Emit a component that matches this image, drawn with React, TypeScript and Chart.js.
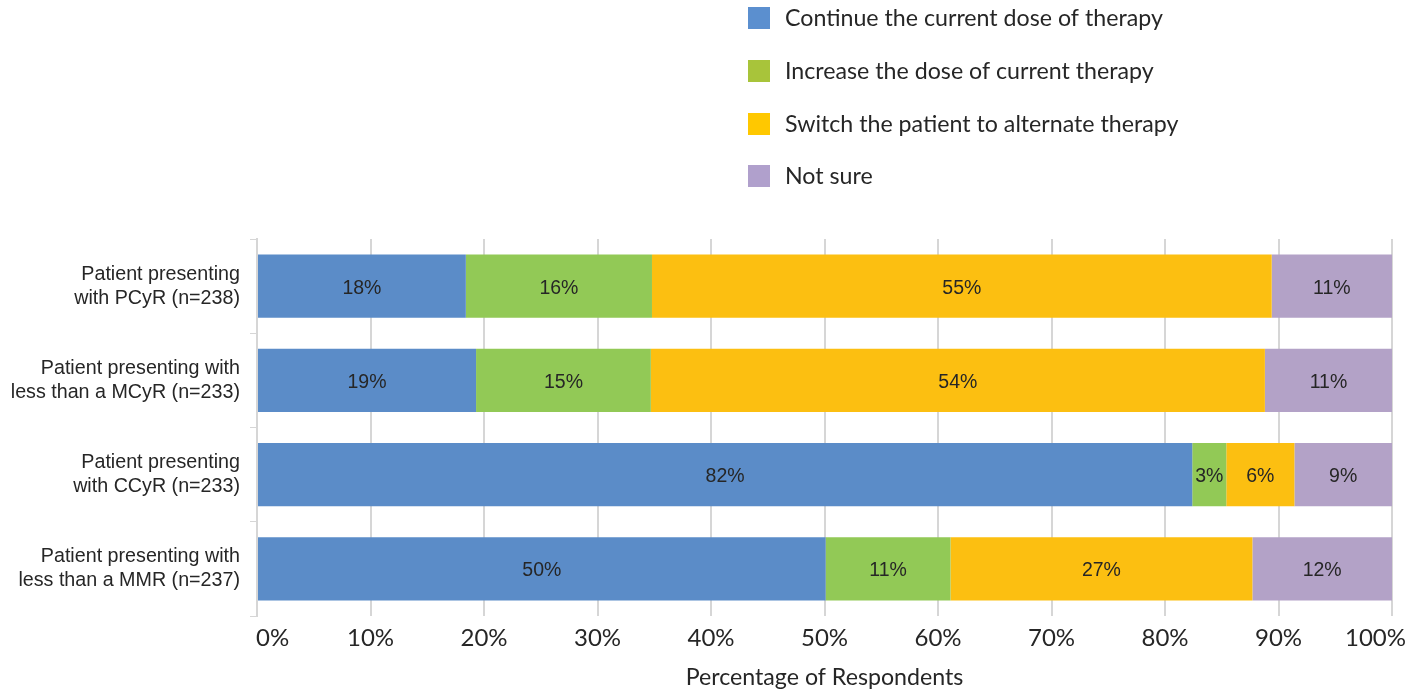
import React, { useEffect, useRef } from "react";
import { Chart, registerables } from "chart.js";

Chart.register(...registerables);

const categories: string[][] = [
  ["Patient presenting", "with PCyR (n=238)"],
  ["Patient presenting with", "less than a MCyR (n=233)"],
  ["Patient presenting", "with CCyR (n=233)"],
  ["Patient presenting with", "less than a MMR (n=237)"],
];

const seriesNames: string[] = [
  "Continue the current dose of therapy",
  "Increase the dose of current therapy",
  "Switch the patient to alternate therapy",
  "Not sure",
];

const continueValues: number[] = [18.4, 19.3, 82.4, 50.1];
const increaseValues: number[] = [16.4, 15.4, 3.0, 11.0];
const switchValues: number[] = [54.6, 54.1, 6.0, 26.6];
const notSureValues: number[] = [10.6, 11.2, 8.6, 12.3];

const barColors: string[] = ["#5b8cc8", "#92c956", "#fcbf11", "#b3a2c7"];
const legendColors: string[] = ["#5b8fcf", "#a8c43a", "#ffc800", "#b0a0cc"];

const xTickValues: number[] = [0, 10, 20, 30, 40, 50, 60, 70, 80, 90, 100];
const xTitle = "Percentage of Respondents";

const GEO_FONT = "Lato, 'Noto Sans', sans-serif";
const ARIAL_FONT = "'Liberation Sans', Arial, sans-serif";

export default function App() {
  const canvasRef = useRef<HTMLCanvasElement | null>(null);

  useEffect(() => {
    document.body.style.margin = "0";
    const canvas = canvasRef.current;
    if (!canvas) return;

    const legendPlugin = {
      id: "customLegend",
      afterDraw(chart: any) {
        const ctx = chart.ctx;
        ctx.save();
        ctx.font = `23.2px ${GEO_FONT}`;
        ctx.textBaseline = "middle";
        ctx.textAlign = "left";
        const rows = [18, 71, 124, 176];
        seriesNames.forEach((name, i) => {
          const cy = rows[i];
          ctx.fillStyle = legendColors[i];
          ctx.fillRect(748, cy - 11, 22, 22);
          ctx.fillStyle = "#262626";
          ctx.fillText(name, 785, cy + 1);
        });
        ctx.restore();
      },
    };

    const xTickPlugin = {
      id: "xTickLabels",
      afterDraw(chart: any) {
        const ctx = chart.ctx;
        const scale = chart.scales.x;
        const area = chart.chartArea;
        ctx.save();
        ctx.font = `24px ${GEO_FONT}`;
        ctx.fillStyle = "#262626";
        ctx.textAlign = "center";
        ctx.textBaseline = "middle";
        xTickValues.forEach((v) => {
          const text = `${v}%`;
          const w = ctx.measureText(text).width;
          let x = scale.getPixelForValue(v);
          const minX = area.left - 1 + w / 2;
          const maxX = chart.width - 6 - w / 2;
          if (x < minX) x = minX;
          if (x > maxX) x = maxX;
          ctx.fillText(text, x, area.bottom + 22);
        });
        ctx.restore();
      },
    };

    const labelPlugin = {
      id: "barLabels",
      afterDatasetsDraw(chart: any) {
        const ctx = chart.ctx;
        ctx.save();
        ctx.font = `19.5px ${ARIAL_FONT}`;
        ctx.fillStyle = "#262626";
        ctx.textAlign = "center";
        ctx.textBaseline = "middle";
        chart.data.datasets.forEach((ds: any, di: number) => {
          const meta = chart.getDatasetMeta(di);
          meta.data.forEach((bar: any, i: number) => {
            const v = ds.data[i] as number;
            const cx = (bar.x + bar.base) / 2;
            ctx.fillText(`${Math.round(v)}%`, cx, bar.y + 2);
          });
        });
        ctx.restore();
      },
    };

    const dataSeries = [continueValues, increaseValues, switchValues, notSureValues];

    const chart = new Chart(canvas, {
      type: "bar",
      data: {
        labels: categories,
        datasets: dataSeries.map((d, i) => ({
          label: seriesNames[i],
          data: d,
          backgroundColor: barColors[i],
          borderWidth: 0,
          barPercentage: 0.67,
          categoryPercentage: 1,
        })),
      },
      options: {
        indexAxis: "y",
        responsive: false,
        animation: false,
        devicePixelRatio: 1,
        layout: { padding: { top: 239, right: 20, left: 0, bottom: 0 } },
        plugins: {
          legend: { display: false },
          tooltip: { enabled: false },
        },
        scales: {
          x: {
            stacked: true,
            min: 0,
            max: 100,
            afterBuildTicks(scale: any) {
              scale.ticks = xTickValues.map((v) => ({ value: v }));
            },
            afterFit(scale: any) {
              scale.height = 75;
              scale.paddingLeft = 0;
              scale.paddingRight = 0;
            },
            ticks: {
              display: false,
            },
            grid: {
              color: "#d6d6d6",
              lineWidth: 2,
              drawTicks: false,
            },
            border: { display: false },
            title: {
              display: true,
              text: xTitle,
              font: { family: GEO_FONT, size: 23.2 },
              color: "#262626",
              padding: { top: 2, bottom: 0 },
            },
          },
          y: {
            stacked: true,
            afterFit(scale: any) {
              scale.width = 257;
            },
            ticks: {
              font: { family: ARIAL_FONT, size: 19.7, lineHeight: 1.22 },
              color: "#262626",
              padding: 10,
            },
            grid: {
              drawOnChartArea: false,
              color: "#d6d6d6",
              lineWidth: 1,
              tickLength: 7,
              offset: true,
            },
            border: { display: true, color: "#d6d6d6", width: 2 },
          },
        },
      },
      plugins: [legendPlugin, labelPlugin, xTickPlugin],
    });

    return () => {
      chart.destroy();
    };
  }, []);

  return (
    <div style={{ width: 1412, height: 691, position: "relative" }}>
      <canvas ref={canvasRef} width={1412} height={691} />
    </div>
  );
}
